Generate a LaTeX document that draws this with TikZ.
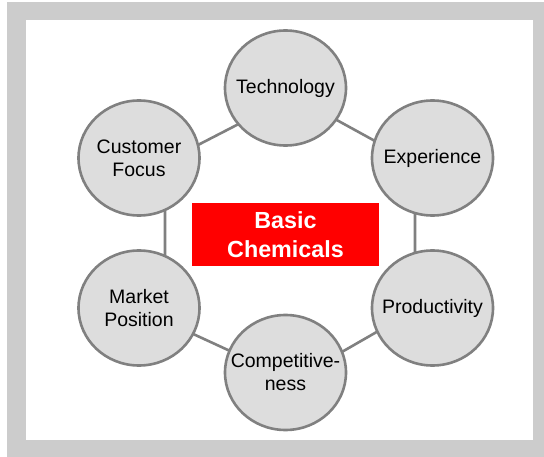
\documentclass[tikz,border=0pt]{standalone}
\usepackage{fontspec}
\setmainfont{Liberation Sans}
\usetikzlibrary{shapes.geometric}
\definecolor{framegray}{RGB}{204,204,204}
\definecolor{ringgray}{RGB}{128,128,128}
\definecolor{discgray}{RGB}{221,221,221}

\begin{document}
\begin{tikzpicture}
      [x=1pt,y=-1pt,line cap=round,line join=round,
     %the text inside a disc
     factortext/.style={inner sep=0pt,align=center,
       font=\fontsize{19.5}{23}\selectfont},
     %the grey discs round the centre
     factor/.style={ellipse,draw=ringgray,fill=discgray,line width=2.6pt,
       minimum width=121pt,minimum height=115pt,inner sep=0pt,
       label={[factortext]center:#1}},
     %the lines between the discs
     link/.style={draw=ringgray,line width=2.6pt},
     %the red box in the middle
     core/.style={fill=red,text=white,minimum width=187pt,minimum height=63pt,
       inner sep=0pt,align=center,font=\fontsize{23.3}{29}\selectfont\bfseries}]

%frame
  \useasboundingbox (0,0) rectangle (544,457);
  \fill[framegray] (7,2) rectangle (544,457);
  \fill[white] (26,20) rectangle (533,440);

%corners of the hexagon behind the discs
  \coordinate (hT) at (293,96);
  \coordinate (hR1) at (415,163);
  \coordinate (hR2) at (415,310);
  \coordinate (hB) at (293,380);
  \coordinate (hL2) at (165,321);
  \coordinate (hL1) at (165,162);
  \draw[link] (hT) -- (hR1) -- (hR2) -- (hB) -- (hL2) -- (hL1) -- cycle;

%the discs
  \node[factor={Technology}] (tech) at (285.5,88) {};
  \node[factor={Experience}] (exp) at (432.5,158) {};
  \node[factor={Productivity}] (prod) at (432.5,308) {};
  \node[factor={Competitive-\\ness}] (comp) at (285.5,372.5) {};
  \node[factor={Market\\Position}] (market) at (139,308) {};
  \node[factor={Customer\\Focus}] (cust) at (139,158) {};

%centre
  \node[core] (basic) at (285.5,234.5) {Basic\\Chemicals};
\end{tikzpicture}
\end{document}
